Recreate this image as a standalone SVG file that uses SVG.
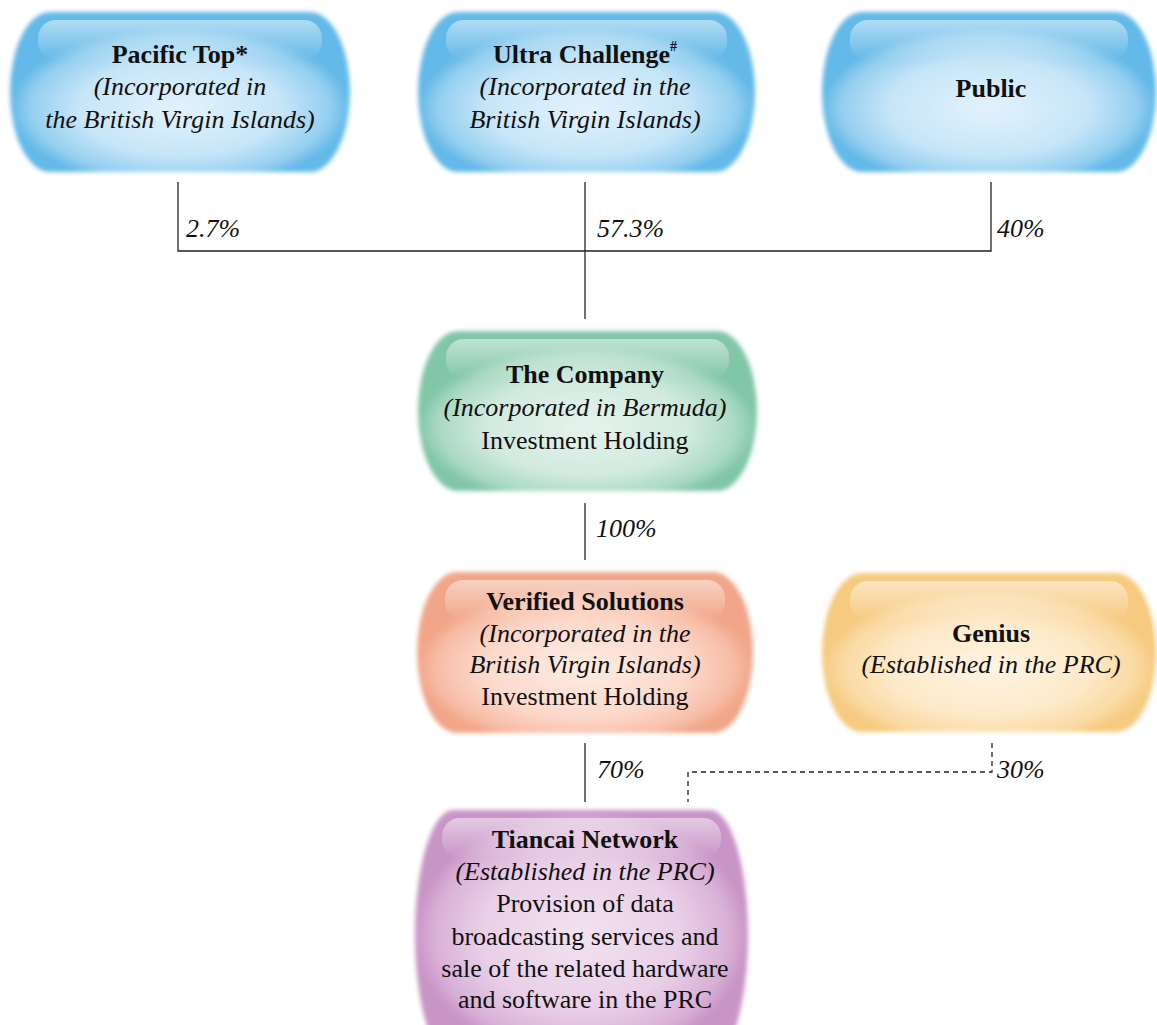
<svg xmlns="http://www.w3.org/2000/svg" width="1157" height="1025" viewBox="0 0 1157 1025">
<style>
text{font-family:"Liberation Serif","Times New Roman",serif;font-size:26px;fill:#111;text-anchor:middle}
.b{font-weight:bold}
.i{font-style:italic}
.pct{font-style:italic;text-anchor:start}
.ln{stroke:#222;stroke-width:1.3;fill:none}
.dash{stroke:#222;stroke-width:1.3;fill:none;stroke-dasharray:5 4}
.hl{fill:url(#hl)}
.body{filter:url(#soft)}
</style>
<defs>
<filter id="soft" x="-5%" y="-5%" width="110%" height="110%"><feGaussianBlur stdDeviation="2"/></filter>
<linearGradient id="hl" x1="0" y1="0" x2="0" y2="1">
<stop offset="0" stop-color="#fff" stop-opacity="0.5"/>
<stop offset="1" stop-color="#fff" stop-opacity="0"/>
</linearGradient>
<radialGradient id="gBlue" cx="0.5" cy="0.6" r="0.5">
<stop offset="0" stop-color="#e3f2fc"/>
<stop offset="0.6" stop-color="#c6e5f8"/>
<stop offset="0.88" stop-color="#94cff0"/>
<stop offset="1" stop-color="#64b9e8"/>
</radialGradient>
<radialGradient id="gGreen" cx="0.5" cy="0.6" r="0.5">
<stop offset="0" stop-color="#e6f3ed"/>
<stop offset="0.6" stop-color="#d2eadf"/>
<stop offset="0.88" stop-color="#a9d9c3"/>
<stop offset="1" stop-color="#82c6a8"/>
</radialGradient>
<radialGradient id="gSalmon" cx="0.5" cy="0.6" r="0.5">
<stop offset="0" stop-color="#feebe3"/>
<stop offset="0.6" stop-color="#fcd9cb"/>
<stop offset="0.88" stop-color="#f7bda7"/>
<stop offset="1" stop-color="#f1a689"/>
</radialGradient>
<radialGradient id="gYellow" cx="0.5" cy="0.6" r="0.5">
<stop offset="0" stop-color="#fef4e3"/>
<stop offset="0.6" stop-color="#fde9c8"/>
<stop offset="0.88" stop-color="#fad9a2"/>
<stop offset="1" stop-color="#f6ca80"/>
</radialGradient>
<radialGradient id="gPurple" cx="0.5" cy="0.5" r="0.5">
<stop offset="0" stop-color="#f2e2f0"/>
<stop offset="0.6" stop-color="#e9cfe7"/>
<stop offset="0.88" stop-color="#d9b1d7"/>
<stop offset="1" stop-color="#c995c7"/>
</radialGradient>
</defs>

<g id="connectors">
<path class="ln" d="M178,182 V251 H991 V182"/>
<path class="ln" d="M585,182 V319"/>
<path class="ln" d="M585,503 V560"/>
<path class="ln" d="M585,743 V802"/>
<path class="dash" d="M992,743 V772 H688 V802"/>
<text class="pct" x="186" y="237">2.7%</text>
<text class="pct" x="597" y="237">57.3%</text>
<text class="pct" x="997" y="237">40%</text>
<text class="pct" x="596" y="537">100%</text>
<text class="pct" x="597" y="778">70%</text>
<text class="pct" x="997" y="778">30%</text>
</g>

<g id="pacific-top">
<path class="body" fill="url(#gBlue)" d="M50,12 H310 A40 80 0 0 1 310,172 H50 A40 80 0 0 1 50,12 Z"/>
<rect class="hl" x="38" y="20" width="284" height="40" rx="18"/>
<text class="b" x="180" y="63">Pacific Top*</text>
<text class="i" x="180" y="95">(Incorporated in</text>
<text class="i" x="180" y="128">the British Virgin Islands)</text>
</g>

<g id="ultra-challenge">
<path class="body" fill="url(#gBlue)" d="M458,12 H715 A40 80 0 0 1 715,172 H458 A40 80 0 0 1 458,12 Z"/>
<rect class="hl" x="446" y="20" width="281" height="40" rx="18"/>
<text class="b" x="585" y="63">Ultra Challenge<tspan font-size="14" dy="-12">#</tspan></text>
<text class="i" x="585" y="95">(Incorporated in the</text>
<text class="i" x="585" y="128">British Virgin Islands)</text>
</g>

<g id="public">
<path class="body" fill="url(#gBlue)" d="M862,12 H1116 A40 80 0 0 1 1116,172 H862 A40 80 0 0 1 862,12 Z"/>
<rect class="hl" x="850" y="20" width="278" height="40" rx="18"/>
<text class="b" x="991" y="97">Public</text>
</g>

<g id="the-company">
<path class="body" fill="url(#gGreen)" d="M458,331 H717 A40 80 0 0 1 717,491 H458 A40 80 0 0 1 458,331 Z"/>
<rect class="hl" x="446" y="339" width="283" height="40" rx="18"/>
<text class="b" x="585" y="383">The Company</text>
<text class="i" x="585" y="416">(Incorporated in Bermuda)</text>
<text x="585" y="449">Investment Holding</text>
</g>

<g id="verified-solutions">
<path class="body" fill="url(#gSalmon)" d="M457,572 H713 A40 80.5 0 0 1 713,733 H457 A40 80.5 0 0 1 457,572 Z"/>
<rect class="hl" x="445" y="580" width="280" height="40" rx="18"/>
<text class="b" x="585" y="610">Verified Solutions</text>
<text class="i" x="585" y="642">(Incorporated in the</text>
<text class="i" x="585" y="673">British Virgin Islands)</text>
<text x="585" y="705">Investment Holding</text>
</g>

<g id="genius">
<path class="body" fill="url(#gYellow)" d="M862,573 H1116 A40 79.5 0 0 1 1116,732 H862 A40 79.5 0 0 1 862,573 Z"/>
<rect class="hl" x="850" y="581" width="278" height="40" rx="18"/>
<text class="b" x="991" y="642">Genius</text>
<text class="i" x="991" y="673">(Established in the PRC)</text>
</g>

<g id="tiancai-network">
<path class="body" fill="url(#gPurple)" d="M453,810 H710 A38 125 0 0 1 710,1060 H453 A38 125 0 0 1 453,810 Z"/>
<rect class="hl" x="442" y="818" width="279" height="40" rx="18"/>
<text class="b" x="585" y="848">Tiancai Network</text>
<text class="i" x="585" y="880">(Established in the PRC)</text>
<text x="585" y="912">Provision of data</text>
<text x="585" y="945">broadcasting services and</text>
<text x="585" y="977">sale of the related hardware</text>
<text x="585" y="1008">and software in the PRC</text>
</g>
</svg>
